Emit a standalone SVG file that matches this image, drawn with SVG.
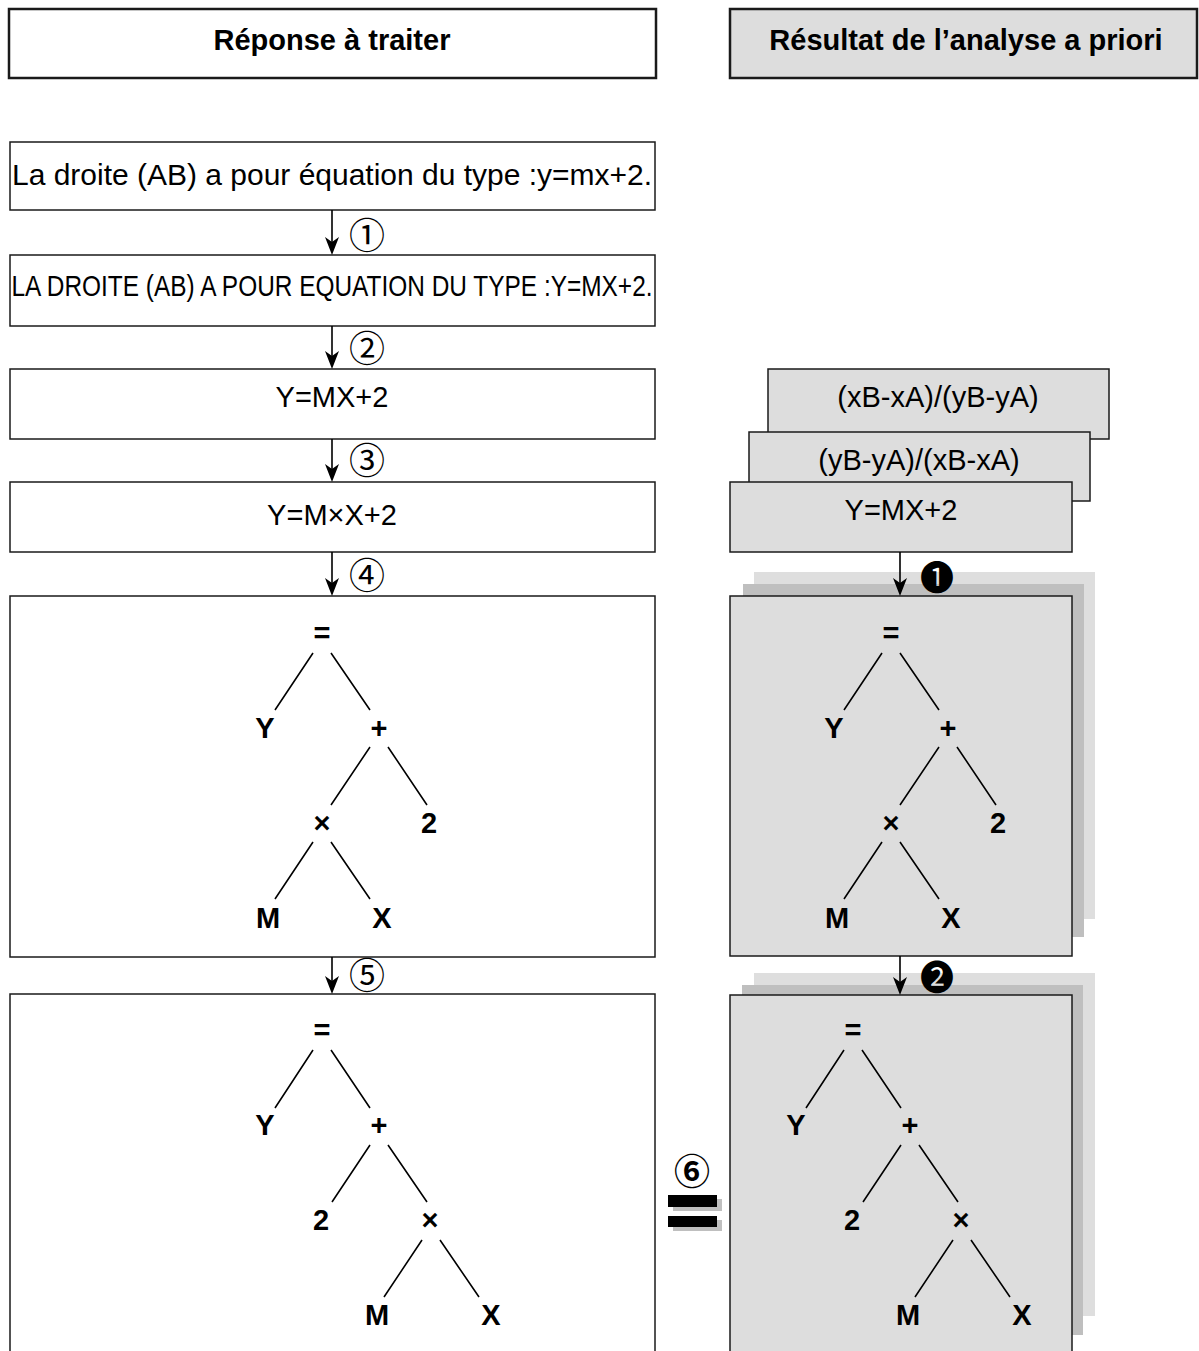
<svg xmlns="http://www.w3.org/2000/svg" width="1199" height="1351" viewBox="0 0 1199 1351">
<style>
.bx{fill:#fff;stroke:#1a1a1a;stroke-width:1.5}
.gb{fill:#dddddd;stroke:#1a1a1a;stroke-width:1.5}
.hd{stroke-width:2.5}
.sh1{fill:#dedede}
.sh2{fill:#bfbfbf}
.t{font-family:"Liberation Sans",Arial,sans-serif;font-size:29px;fill:#000;text-anchor:middle}
.tb{font-family:"Liberation Sans",Arial,sans-serif;font-size:29px;font-weight:bold;fill:#000;text-anchor:middle}
.num{font-family:"Noto Sans CJK JP",sans-serif;font-size:36px;fill:#000;text-anchor:middle}
.dnum{font-family:"Noto Sans CJK JP","DejaVu Sans",sans-serif;font-size:34px;fill:#000;text-anchor:middle}
.ln{stroke:#000;stroke-width:1.6;fill:none}
.ar{stroke:#000;stroke-width:1.6;fill:none}
.ah{fill:#000;stroke:none}
</style>

<g id="header-left">
<rect class="bx hd" x="9" y="9" width="647" height="69"/>
<text class="tb" x="332" y="50">Réponse à traiter</text>
</g>
<g id="header-right">
<rect class="gb hd" x="730" y="9" width="467" height="69"/>
<text class="tb" x="966" y="50">Résultat de l’analyse a priori</text>
</g>

<g id="n1">
<rect class="bx" x="10" y="142" width="645" height="68"/>
<text class="t" x="332" y="185" font-size="30" textLength="640" lengthAdjust="spacingAndGlyphs">La droite (AB) a pour équation du type :y=mx+2.</text>
</g>
<g id="n2">
<rect class="bx" x="10" y="255" width="645" height="71"/>
<text class="t" x="332" y="296" font-size="30" textLength="641" lengthAdjust="spacingAndGlyphs">LA DROITE (AB) A POUR EQUATION DU TYPE :Y=MX+2.</text>
</g>
<g id="n3">
<rect class="bx" x="10" y="369" width="645" height="70"/>
<text class="t" x="332" y="407">Y=MX+2</text>
</g>
<g id="n4">
<rect class="bx" x="10" y="482" width="645" height="70"/>
<text class="t" x="332" y="525">Y=M×X+2</text>
</g>
<g id="n5">
<rect class="bx" x="10" y="596" width="645" height="361"/>
<text class="tb" x="322" y="643">=</text>
<text class="tb" x="265" y="738">Y</text>
<text class="tb" x="379" y="738">+</text>
<text class="tb" x="322" y="833">×</text>
<text class="tb" x="429" y="833">2</text>
<text class="tb" x="268" y="928">M</text>
<text class="tb" x="382" y="928">X</text>
<path class="ln" d="M313,653 L275,710 M331,653 L370,710 M370,747 L331,805 M388,747 L427,805 M313,842 L275,899 M331,842 L370,899"/>
</g>
<g id="n6">
<rect class="bx" x="10" y="994" width="645" height="400"/>
<text class="tb" x="322" y="1040">=</text>
<text class="tb" x="265" y="1135">Y</text>
<text class="tb" x="379" y="1135">+</text>
<text class="tb" x="321" y="1230">2</text>
<text class="tb" x="430" y="1230">×</text>
<text class="tb" x="377" y="1325">M</text>
<text class="tb" x="491" y="1325">X</text>
<path class="ln" d="M313,1050 L275,1108 M331,1050 L370,1108 M370,1145 L332,1202 M388,1145 L427,1202 M422,1240 L384,1297 M440,1240 L479,1297"/>
</g>

<g id="r1">
<rect class="gb" x="768" y="369" width="341" height="70"/>
<text class="t" x="938" y="407">(xB-xA)/(yB-yA)</text>
</g>
<g id="r2">
<rect class="gb" x="749" y="432" width="341" height="69"/>
<text class="t" x="919" y="470">(yB-yA)/(xB-xA)</text>
</g>
<g id="r3">
<rect class="gb" x="730" y="482" width="342" height="70"/>
<text class="t" x="901" y="520">Y=MX+2</text>
</g>
<g id="r4">
<rect class="sh1" x="754" y="572" width="341" height="347"/>
<rect class="sh2" x="743" y="584" width="341" height="353"/>
<rect class="gb" x="730" y="596" width="342" height="360"/>
<text class="tb" x="891" y="643">=</text>
<text class="tb" x="834" y="738">Y</text>
<text class="tb" x="948" y="738">+</text>
<text class="tb" x="891" y="833">×</text>
<text class="tb" x="998" y="833">2</text>
<text class="tb" x="837" y="928">M</text>
<text class="tb" x="951" y="928">X</text>
<path class="ln" d="M882,653 L844,710 M900,653 L939,710 M939,747 L900,805 M957,747 L996,805 M882,842 L844,899 M900,842 L939,899"/>
</g>
<g id="r5">
<rect class="sh1" x="754" y="973" width="341" height="343"/>
<rect class="sh2" x="742" y="985" width="341" height="350"/>
<rect class="gb" x="730" y="995" width="342" height="400"/>
<text class="tb" x="853" y="1040">=</text>
<text class="tb" x="796" y="1135">Y</text>
<text class="tb" x="910" y="1135">+</text>
<text class="tb" x="852" y="1230">2</text>
<text class="tb" x="961" y="1230">×</text>
<text class="tb" x="908" y="1325">M</text>
<text class="tb" x="1022" y="1325">X</text>
<path class="ln" d="M844,1050 L806,1108 M862,1050 L901,1108 M901,1145 L863,1202 M919,1145 L958,1202 M953,1240 L915,1297 M971,1240 L1010,1297"/>
</g>

<g id="equal-mark">
<text class="num" x="692" y="1185" font-size="40" font-weight="bold">⑥</text>
<rect x="673" y="1199" width="49" height="12" fill="#bfbfbf"/>
<rect x="668" y="1195" width="49" height="12" fill="#000"/>
<rect x="673" y="1220" width="49" height="11" fill="#bfbfbf"/>
<rect x="668" y="1216" width="49" height="11" fill="#000"/>
</g>

<g id="connectors">
<path class="ar" d="M332,210 V245 M332,326 V359 M332,439 V472 M332,552 V586 M332,957 V984 M900,552 V586 M900,956 V985"/>
<path class="ah" d="M332,255 L325,237 L332,242 L339,237 Z"/>
<path class="ah" d="M332,369 L325,351 L332,356 L339,351 Z"/>
<path class="ah" d="M332,482 L325,464 L332,469 L339,464 Z"/>
<path class="ah" d="M332,596 L325,578 L332,583 L339,578 Z"/>
<path class="ah" d="M332,994 L325,976 L332,981 L339,976 Z"/>
<path class="ah" d="M900,596 L893,578 L900,583 L907,578 Z"/>
<path class="ah" d="M900,995 L893,977 L900,982 L907,977 Z"/>
<text class="num" x="367" y="249">①</text>
<text class="num" x="367" y="362">②</text>
<text class="num" x="367" y="474">③</text>
<text class="num" x="367" y="589">④</text>
<text class="num" x="367" y="989">⑤</text>
<text class="dnum" x="937" y="590">❶</text>
<text class="dnum" x="937" y="990">❷</text>
</g>
</svg>
